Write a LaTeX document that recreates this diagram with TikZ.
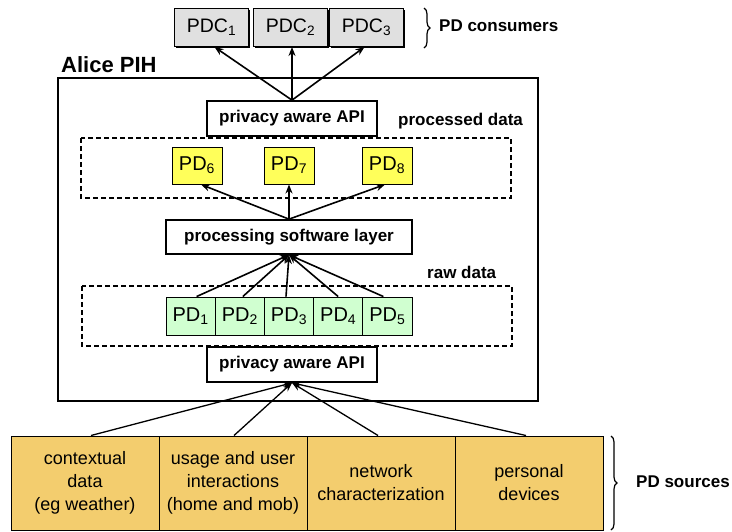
\documentclass[tikz,border=0pt]{standalone}
\usepackage{fontspec}
\setmainfont{Liberation Sans}
\usetikzlibrary{arrows.meta,decorations.pathreplacing,shadows,calc}
\definecolor{srcfill}{RGB}{243,205,110}
\definecolor{pdgreen}{RGB}{208,255,208}
\definecolor{pdyellow}{RGB}{255,255,90}
\definecolor{pdcgray}{RGB}{224,224,224}
\begin{document}
\begin{tikzpicture}[x=1pt,y=-1pt,
  lbl/.style={font=\fontsize{17}{20}\selectfont\bfseries, inner sep=0pt, anchor=west},
  boldbox/.style={draw, line width=1.7pt, fill=white, inner sep=0pt, minimum height=34pt,
     font=\fontsize{17}{20}\selectfont\bfseries},
  pdc/.style={draw, line width=1pt, fill=pdcgray, inner sep=0pt, minimum width=74pt, minimum height=38pt,
     font=\fontsize{19.5}{20}\selectfont,
     general shadow={fill=black, shadow xshift=1.6pt, shadow yshift=-1.6pt}},
  pdy/.style={draw, line width=1pt, fill=pdyellow, inner sep=0pt, minimum width=50pt, minimum height=37pt,
     font=\fontsize{20}{20}\selectfont,
     general shadow={fill=black, shadow xshift=1.4pt, shadow yshift=-1.4pt}},
  pdg/.style={draw, line width=0.9pt, fill=pdgreen, inner sep=0pt, minimum width=49.2pt, minimum height=38pt,
     font=\fontsize{20}{20}\selectfont},
  src/.style={draw, line width=1pt, fill=srcfill, inner sep=0pt, minimum width=148pt, minimum height=94pt,
     align=center, font=\fontsize{18}{23}\selectfont},
  dashbox/.style={draw, line width=1.4pt, dash pattern=on 5pt off 3pt},
  conn/.style={-{Stealth[length=9pt,width=7pt]}, line width=1.6pt},
  sconn/.style={-{Stealth[length=9pt,width=7pt]}, line width=1.3pt},
  brc/.style={draw, line width=1.2pt, decorate, decoration={brace, amplitude=6pt}}
]
\useasboundingbox (0,0) rectangle (732,531);

% consumers
\node[pdc] (pdc1) at (211.5,27.5) {PDC\textsubscript{1}};
\node[pdc] (pdc2) at (290.5,27.5) {PDC\textsubscript{2}};
\node[pdc] (pdc3) at (366.5,27.5) {PDC\textsubscript{3}};
\draw[brc] (424,8) -- (424,48);
\node[lbl] (cons) at (439,26) {PD consumers};

% PIH
\draw[line width=2pt] (58,78) rectangle (538,401);
\node[lbl, font=\fontsize{22}{24}\selectfont\bfseries] (alice) at (61,65) {Alice PIH};

\draw[dashbox] (81,138) rectangle (511,198);
\node[lbl] (proc) at (398,121) {processed data};
\draw[dashbox] (82,286) rectangle (512,346);
\node[lbl] (raw) at (427,272) {raw data};

\node[boldbox, minimum width=170pt, minimum height=35pt] (apitop) at (292,118.5) {privacy aware API};
\node[pdy] (pd6) at (197,165.5) {PD\textsubscript{6}};
\node[pdy] (pd7) at (289,165.5) {PD\textsubscript{7}};
\node[pdy] (pd8) at (387,165.5) {PD\textsubscript{8}};
\node[boldbox, minimum width=246pt] (layer) at (289,237) {processing software layer};

\node[pdg] (pd1) at (190.6,316) {PD\textsubscript{1}};
\node[pdg] (pd2) at (239.8,316) {PD\textsubscript{2}};
\node[pdg] (pd3) at (289,316) {PD\textsubscript{3}};
\node[pdg] (pd4) at (338.2,316) {PD\textsubscript{4}};
\node[pdg] (pd5) at (387.4,316) {PD\textsubscript{5}};

\node[boldbox, minimum width=170pt, minimum height=35pt] (apibot) at (292,364.5) {privacy aware API};

% sources
\node[src] (s1) at (85,483) {contextual\\data\\(eg weather)};
\node[src] (s2) at (233,483) {usage and user\\interactions\\(home and mob)};
\node[src] (s3) at (381,483) {network\\characterization};
\node[src] (s4) at (529,483) {personal\\devices};
\draw[brc] (611,436) -- (611,530);
\node[lbl] (srcl) at (636,482) {PD sources};

% connectors
\draw[conn] (apitop.north) -- ($(pdc1.south)+(3,0)$);
\draw[conn] (apitop.north) -- ($(pdc2.south)+(1.5,0)$);
\draw[conn] (apitop.north) -- ($(pdc3.south)+(-2,0)$);

\draw[conn] (layer.north) -- ($(pd6.south)+(4,0)$);
\draw[conn] (layer.north) -- (pd7.south);
\draw[conn] (layer.north) -- ($(pd8.south)+(-2,0)$);

\foreach \p/\dx in {pd1/6, pd2/3, pd3/-3, pd4/0, pd5/-4}{
  \draw[conn] ($(\p.north)+(\dx,0)$) -- (layer.south);
}

\foreach \s/\dx in {s1/6, s2/1, s3/-3, s4/-3}{
  \draw[sconn] ($(\s.north)+(\dx,0)$) -- (apibot.south);
}
\end{tikzpicture}
\end{document}
